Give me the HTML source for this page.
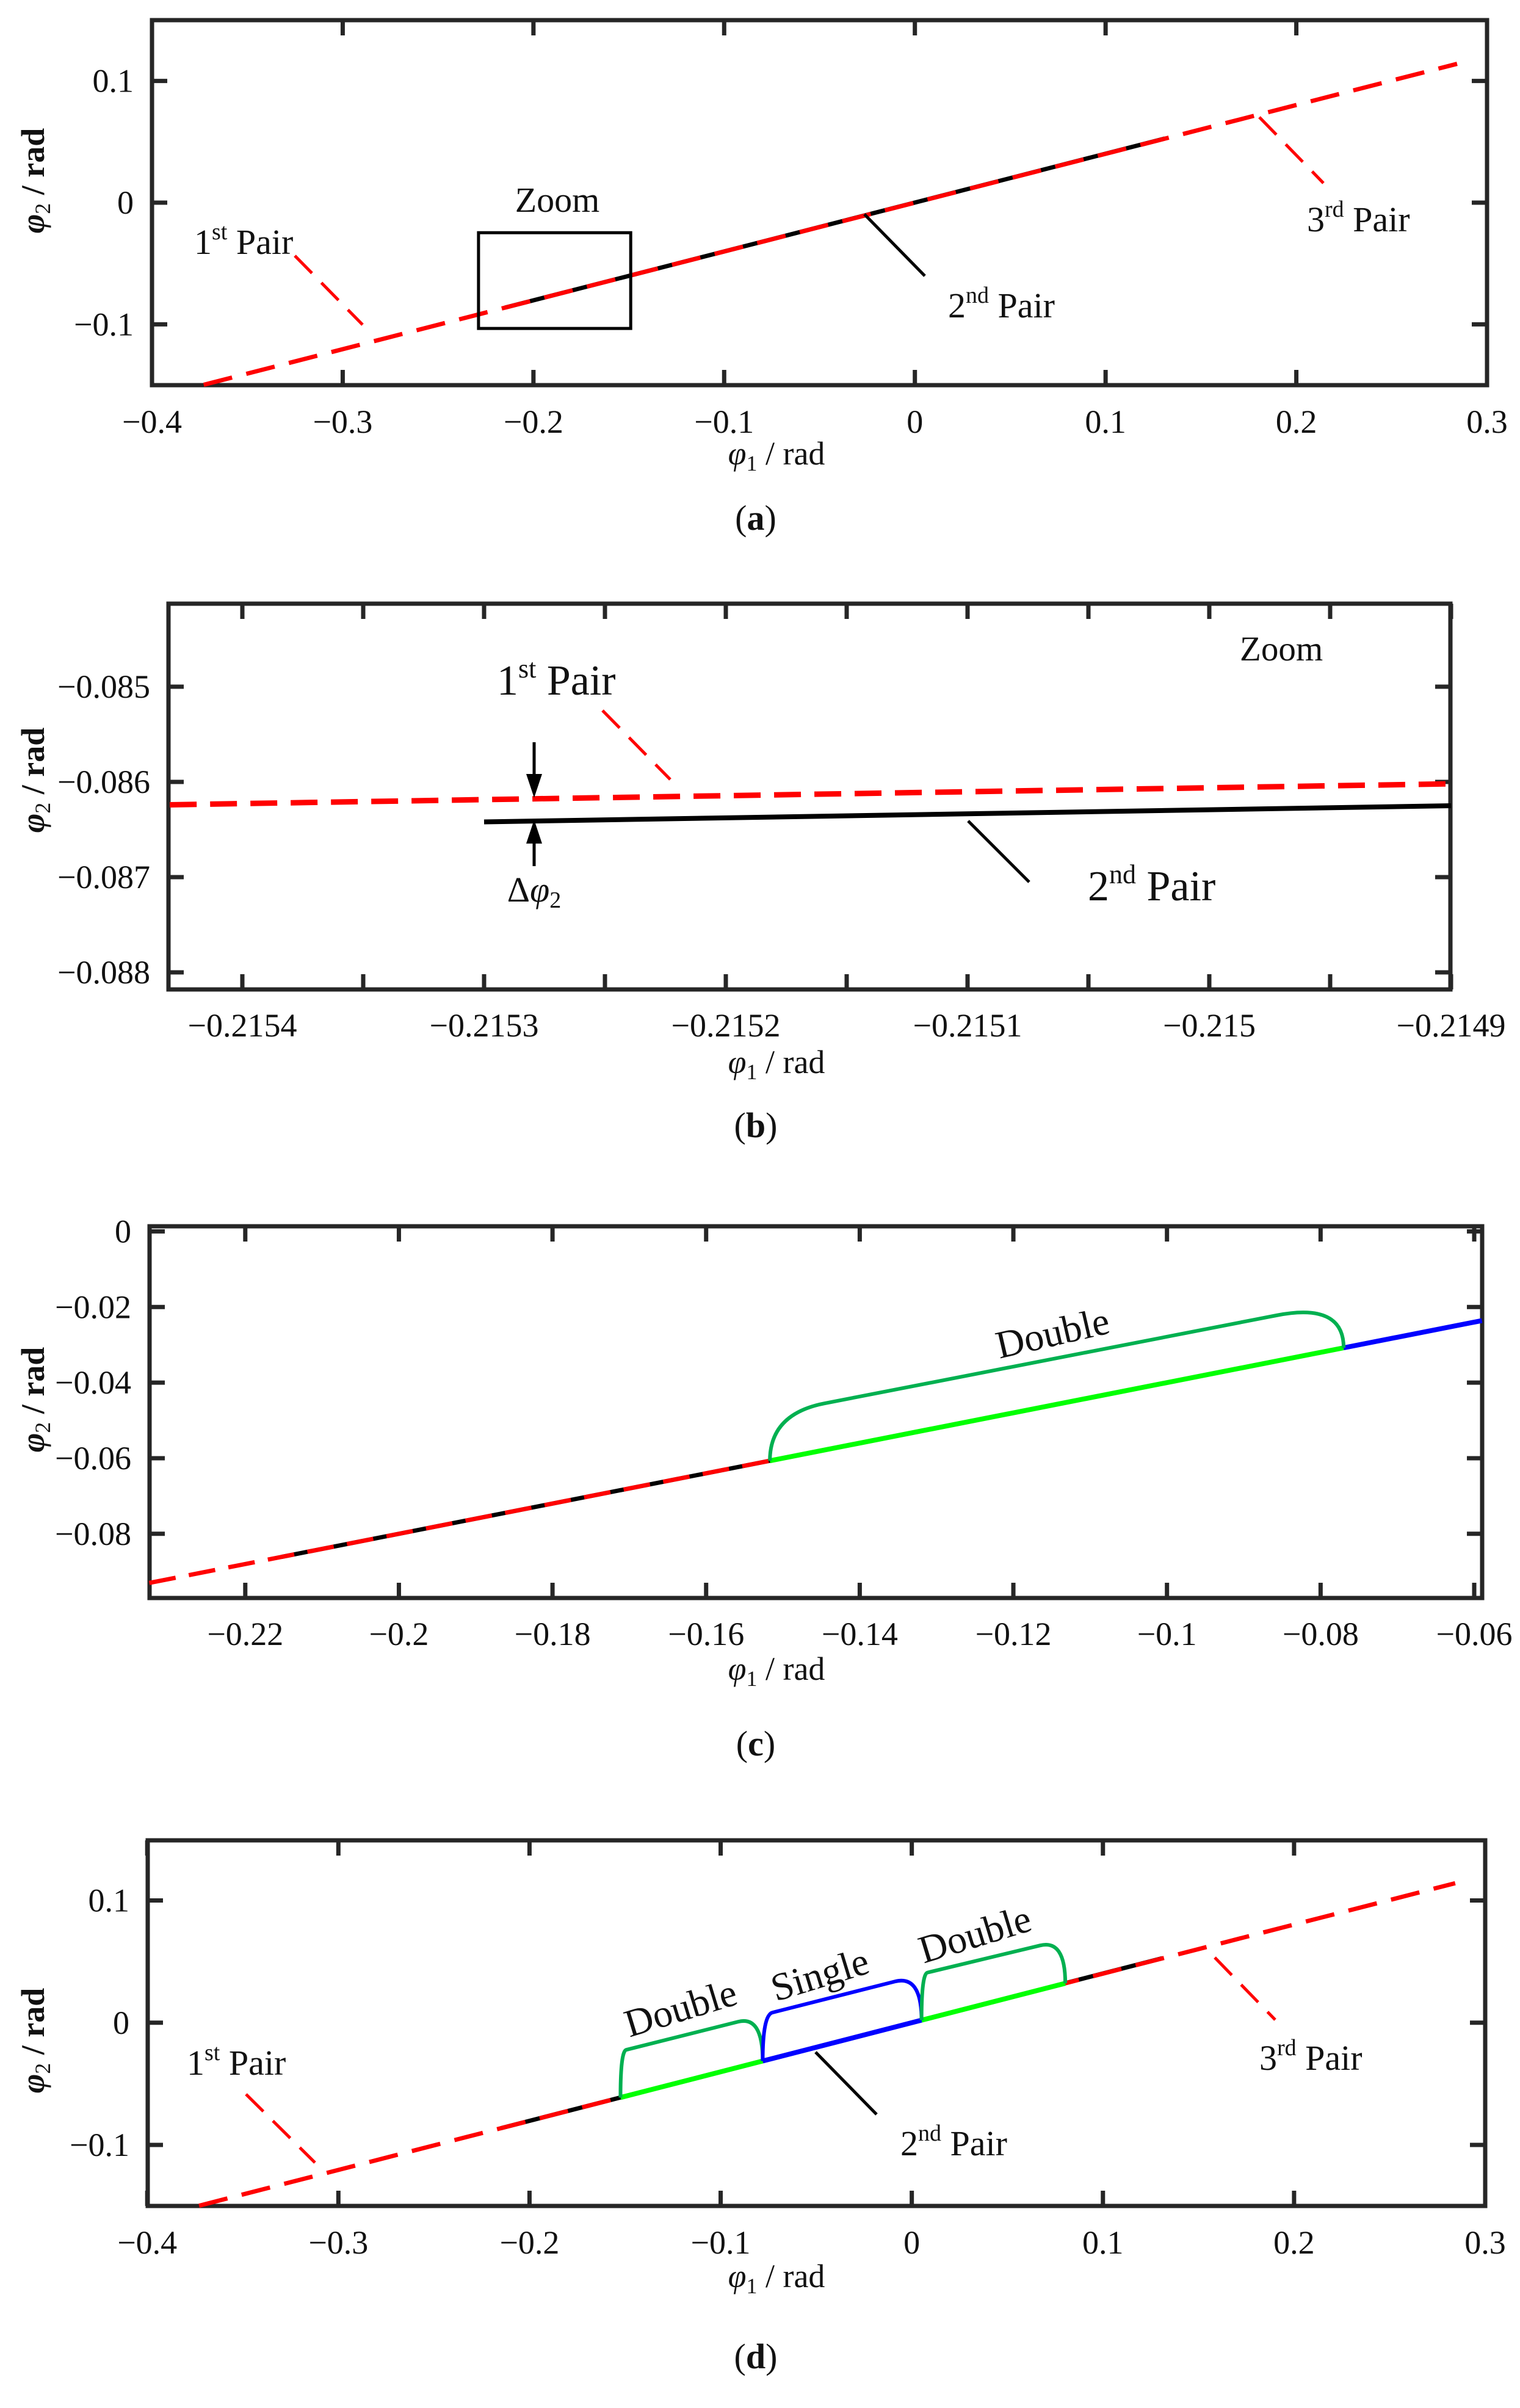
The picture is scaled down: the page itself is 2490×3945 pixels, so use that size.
<!DOCTYPE html>
<html><head><meta charset="utf-8">
<style>
html,body{margin:0;padding:0;background:#fff;}
svg{display:block;font-family:"Liberation Serif","Times New Roman","DejaVu Serif",serif;}
svg text{font-family:"Liberation Serif","Times New Roman","DejaVu Serif",serif;fill:#111;}
</style></head>
<body>
<svg id="fig" xmlns="http://www.w3.org/2000/svg" width="2490" height="3945" viewBox="0 0 2490 3945" font-family="Liberation Serif, Times New Roman, serif"></svg>
<script>
// ===== DATA =====
const pairOuterX = [-0.3729, 0.2843];
const pairOuterY = [-0.1497, 0.1141];
const pair2X = [-0.215, 0.131];
const pair2Y = [-0.0863, 0.0527];
const zoomRedX = [-0.21543, -0.2149];
const zoomRedY = [-0.08624, -0.08602];
const zoomBlackX = [-0.21530, -0.2149];
const zoomBlackY = [-0.08642, -0.08625];
const cRedX = [-0.2325, -0.059];
const cRedY = [-0.0930, -0.0236];
const cBlackX = [-0.2153, -0.059];
const cGreenSeg = [-0.1517, -0.077];
const cBlueSeg = [-0.077, -0.059];
const cBracketX = [-0.1517, -0.1446, -0.0857, -0.077];
const cBracketTopY = [-0.0455, -0.0222];
const dGreenSeg1 = [-0.1524, -0.078];
const dBlueSeg = [-0.078, 0.0051];
const dGreenSeg2 = [0.0051, 0.0803];
const dDouble1X = [-0.1524, -0.1494, -0.0908, -0.078];
const dDouble1TopY = [-0.0222, 0.0008];
const dSingleX = [-0.078, -0.0729, -0.0088, 0.0051];
const dSingleTopY = [0.0083, 0.0337];
const dDouble2X = [0.0051, 0.0082, 0.0672, 0.0803];
const dDouble2TopY = [0.041, 0.0632];
const wideXTicks = [-0.4, -0.3, -0.2, -0.1, 0, 0.1, 0.2, 0.3];
const wideXLabels = ["\u22120.4","\u22120.3","\u22120.2","\u22120.1","0","0.1","0.2","0.3"];
const wideYTicks = [-0.1, 0, 0.1];
const wideYLabels = ["\u22120.1","0","0.1"];
const bXTicks = [-0.2154,-0.21535,-0.2153,-0.21525,-0.2152,-0.21515,-0.2151,-0.21505,-0.215,-0.21495,-0.2149];
const bXLabels = ["\u22120.2154","","\u22120.2153","","\u22120.2152","","\u22120.2151","","\u22120.215","","\u22120.2149"];
const bYTicks = [-0.085, -0.086, -0.087, -0.088];
const bYLabels = ["\u22120.085","\u22120.086","\u22120.087","\u22120.088"];
const cXTicks = [-0.22,-0.2,-0.18,-0.16,-0.14,-0.12,-0.1,-0.08,-0.06];
const cXLabels = ["\u22120.22","\u22120.2","\u22120.18","\u22120.16","\u22120.14","\u22120.12","\u22120.1","\u22120.08","\u22120.06"];
const cYTicks = [0, -0.02, -0.04, -0.06, -0.08];
const cYLabels = ["0","\u22120.02","\u22120.04","\u22120.06","\u22120.08"];

// ===== RENDER =====
const NS = "http://www.w3.org/2000/svg";
const FF = "Liberation Serif, Times New Roman, DejaVu Serif, serif";
const svg = document.getElementById("fig");
function mk(tag, attrs, parent){
  const e = document.createElementNS(NS, tag);
  for (const k in attrs) e.setAttribute(k, attrs[k]);
  if (tag === "text") e.setAttribute("font-family", FF);
  (parent||svg).appendChild(e);
  return e;
}
function scale(d0,d1,p0,p1){ return v => p0 + (v-d0)/(d1-d0)*(p1-p0); }
function lerpY(xs, ys, x){ return ys[0] + (x-xs[0])/(xs[1]-xs[0])*(ys[1]-ys[0]); }

function axes(p){
  const g = mk("g", {});
  
  
  const fr = mk("rect", {x:p.L, y:p.T, width:p.R-p.L, height:p.B-p.T, fill:"none", stroke:"#262626", "stroke-width":7}, g);
  
  
  p.xt.forEach((v,i)=>{
    const x = p.sx(v);
    mk("line",{x1:x,y1:p.B,x2:x,y2:p.B-25,stroke:"#262626","stroke-width":7},g);
    mk("line",{x1:x,y1:p.T,x2:x,y2:p.T+25,stroke:"#262626","stroke-width":7},g);
    if (p.xl[i]) {
      const t = mk("text",{x:x,y:p.xBase,"text-anchor":"middle","font-size":54},g);
      t.textContent = p.xl[i];
      
      
    }
  });
  p.yt.forEach((v,i)=>{
    const y = p.sy(v);
    mk("line",{x1:p.L,y1:y,x2:p.L+25,y2:y,stroke:"#262626","stroke-width":7},g);
    mk("line",{x1:p.R,y1:y,x2:p.R-25,y2:y,stroke:"#262626","stroke-width":7},g);
    const t = mk("text",{x:p.L-30,y:y+18,"text-anchor":"end","font-size":54},g);
    t.textContent = p.yl[i];
    
    
  });
  const xl = mk("text",{x:1272,y:p.xLab,"text-anchor":"middle","font-size":54},g);
  xl.innerHTML = '<tspan font-style="italic">\u03c6</tspan><tspan font-size="36" dy="10">1</tspan><tspan dy="-10"> / rad</tspan>';
  
  
  const yc = p.yLabC;
  const yl = mk("text",{x:0,y:0,"text-anchor":"middle","font-size":54,"font-weight":"bold",transform:"translate(72,"+yc+") rotate(-90)"},g);
  yl.innerHTML = '<tspan font-style="italic">\u03c6</tspan><tspan font-size="36" dy="10" font-weight="normal">2</tspan><tspan dy="-10"> / rad</tspan>';
  
  
  const pl = mk("text",{x:1238,y:p.capY,"text-anchor":"middle","font-size":58},g);
  pl.innerHTML = '(<tspan font-weight="bold">'+p.cap+'</tspan>)';
  
  
}
function seg(p, xs, ys, color, w, dash, name){
  const l = mk("line",{x1:p.sx(xs[0]),y1:p.sy(ys[0]),x2:p.sx(xs[1]),y2:p.sy(ys[1]),stroke:color,"stroke-width":w,"stroke-dasharray":dash||"none"});
  
  
  return l;
}
function bracket(p, bx, topY, lineXs, lineYs, color, name){
  const x0=p.sx(bx[0]), y0=p.sy(lerpY(lineXs,lineYs,bx[0]));
  const xa=p.sx(bx[1]), ya=p.sy(topY[0]);
  const xb=p.sx(bx[2]), yb=p.sy(topY[1]);
  const x1=p.sx(bx[3]), y1=p.sy(lerpY(lineXs,lineYs,bx[3]));
  const s=(yb-ya)/(xb-xa);
  const c0y = ya - s*(xa-x0), c1y = yb + s*(x1-xb);
  const d = `M${x0},${y0} Q${x0},${c0y} ${xa},${ya} L${xb},${yb} Q${x1},${c1y} ${x1},${y1}`;
  const e = mk("path",{d:d,fill:"none",stroke:color,"stroke-width":6});
  
  
}
function txt(x,y,size,html,name,extra){
  const t = mk("text",Object.assign({x:x,y:y,"font-size":size},extra||{}));
  t.innerHTML = html;
  
  
  return t;
}
function leader(x1,y1,x2,y2,color,dash,name){
  const l = mk("line",{x1:x1,y1:y1,x2:x2,y2:y2,stroke:color,"stroke-width":5,"stroke-dasharray":dash||"none"});
  
  
}
const sup = s => '<tspan font-size="38" dy="-24">'+s+'</tspan><tspan dy="24"> </tspan>';
const RED="#ff0000", GRN="#00ff00", DGR="#00b050", BLU="#0000ff";

// ---- Panel a ----
const pa = {name:"panel-a",L:249,R:2436,T:33,B:631,cap:"a",xBase:709,xLab:761,yLabC:296,capY:868,
  xt:wideXTicks,xl:wideXLabels,yt:wideYTicks,yl:wideYLabels};
pa.sx=scale(-0.4,0.3,249,2436); pa.sy=scale(-0.15,0.15,631,33);
axes(pa);
seg(pa,pair2X,pair2Y,"#000",7,null,"a-2nd-pair-line");
seg(pa,pairOuterX,pairOuterY,RED,7,"48,24","a-1st-3rd-pair-line");
const zr = mk("rect",{x:pa.sx(-0.2288),y:pa.sy(-0.0247),width:pa.sx(-0.149)-pa.sx(-0.2288),height:pa.sy(-0.1034)-pa.sy(-0.0247),fill:"none",stroke:"#000","stroke-width":5});


txt(913,347,58,"Zoom","a-zoom-label",{"text-anchor":"middle"});
txt(318,416,58,"1"+sup("st")+"Pair","a-1st-pair-label");
leader(483,419,594,532,RED,"40,22","a-1st-pair-leader");
txt(1553,520,58,"2"+sup("nd")+"Pair","a-2nd-pair-label");
leader(1416,351,1515,452,"#000",null,"a-2nd-pair-leader");
txt(2141,379,58,"3"+sup("rd")+"Pair","a-3rd-pair-label");
leader(2063,192,2168,300,RED,"40,22","a-3rd-pair-leader");

// ---- Panel b ----
const pb = {name:"panel-b",L:276,R:2376,T:989,B:1621,cap:"b",xBase:1698,xLab:1758,yLabC:1278,capY:1863,
  xt:bXTicks,xl:bXLabels,yt:bYTicks,yl:bYLabels};
pb.sx=scale(-0.2154,-0.2149,397,2377); pb.sy=scale(-0.085,-0.088,1125,1593);
axes(pb);
seg(pb,zoomBlackX,zoomBlackY,"#000",8,null,"b-2nd-pair-line");
seg(pb,zoomRedX,zoomRedY,RED,9,"44,22","b-1st-pair-line");
const ax = 875;
leader(ax,1216,ax,1300,"#000",null,"b-arrow-top");
leader(ax,1350,ax,1419,"#000",null,"b-arrow-bottom");
const a1 = mk("path",{d:`M${ax-13},1268 L${ax+13},1268 L${ax},1307 Z`,fill:"#000"});


const a2 = mk("path",{d:`M${ax-13},1382 L${ax+13},1382 L${ax},1343 Z`,fill:"#000"});


txt(875,1477,58,'\u0394<tspan font-style="italic">\u03c6</tspan><tspan font-size="38" dy="10">2</tspan>',"delta-phi2-label",{"text-anchor":"middle"});
txt(814,1138,70,"1"+'<tspan font-size="44" dy="-28">st</tspan><tspan dy="28"> </tspan>'+"Pair","b-1st-pair-label");
leader(987,1164,1098,1277,RED,"40,22","b-1st-pair-leader");
txt(2031,1082,57,"Zoom","b-zoom-label");
txt(1782,1475,70,"2"+'<tspan font-size="44" dy="-28">nd</tspan><tspan dy="28"> </tspan>'+"Pair","b-2nd-pair-label");
leader(1586,1345,1686,1445,"#000",null,"b-2nd-pair-leader");

// ---- Panel c ----
const pc = {name:"panel-c",L:245,R:2428,T:2009,B:2618,cap:"c",xBase:2695,xLab:2752,yLabC:2293,capY:2876,
  xt:cXTicks,xl:cXLabels,yt:cYTicks,yl:cYLabels};
pc.sx=scale(-0.22,-0.06,401.8,2415); pc.sy=scale(0,-0.08,2017.4,2512.8);
axes(pc);
seg(pc,cBlackX,[lerpY(cRedX,cRedY,cBlackX[0]),lerpY(cRedX,cRedY,cBlackX[1])],"#000",7,null,"c-2nd-pair-line");
seg(pc,cRedX,cRedY,RED,7,"44,22","c-1st-pair-line");
seg(pc,cGreenSeg,[lerpY(cRedX,cRedY,cGreenSeg[0]),lerpY(cRedX,cRedY,cGreenSeg[1])],GRN,8,null,"c-double-segment");
seg(pc,cBlueSeg,[lerpY(cRedX,cRedY,cBlueSeg[0]),lerpY(cRedX,cRedY,cBlueSeg[1])],BLU,8,null,"c-single-segment");
bracket(pc,cBracketX,cBracketTopY,cRedX,cRedY,DGR,"c-double-bracket");
txt(1725,2205,64,"Double","c-double-label",{"text-anchor":"middle",transform:"rotate(-13 1725 2187)"});

// ---- Panel d ----
const pd = {name:"panel-d",L:242,R:2433,T:3015,B:3614,cap:"d",xBase:3692,xLab:3747,yLabC:3343,capY:3880,
  xt:wideXTicks,xl:wideXLabels,yt:wideYTicks,yl:wideYLabels};
pd.sx=scale(-0.4,0.3,241.2,2433); pd.sy=scale(-0.15,0.15,3614.2,3013.3);
axes(pd);
seg(pd,pair2X,pair2Y,"#000",7,null,"d-2nd-pair-line");
seg(pd,pairOuterX,pairOuterY,RED,7,"48,24","d-1st-3rd-pair-line");
[[dGreenSeg1,GRN,"d-double-segment-1"],[dBlueSeg,BLU,"d-single-segment"],[dGreenSeg2,GRN,"d-double-segment-2"]].forEach(s=>{
  seg(pd,s[0],[lerpY(pairOuterX,pairOuterY,s[0][0]),lerpY(pairOuterX,pairOuterY,s[0][1])],s[1],8,null,s[2]);
});
bracket(pd,dDouble1X,dDouble1TopY,pairOuterX,pairOuterY,DGR,"d-double-bracket-1");
bracket(pd,dSingleX,dSingleTopY,pairOuterX,pairOuterY,BLU,"d-single-bracket");
bracket(pd,dDouble2X,dDouble2TopY,pairOuterX,pairOuterY,DGR,"d-double-bracket-2");
txt(1116,3311,64,"Double","d-double-label-1",{"text-anchor":"middle",transform:"rotate(-17 1116 3293)"});
txt(1344,3256,64,"Single","d-single-label",{"text-anchor":"middle",transform:"rotate(-17 1344 3238)"});
txt(1598,3190,64,"Double","d-double-label-2",{"text-anchor":"middle",transform:"rotate(-17 1598 3172)"});
txt(306,3399,58,"1"+sup("st")+"Pair","d-1st-pair-label");
leader(403,3431,516,3543,RED,"40,22","d-1st-pair-leader");
txt(1475,3531,58,"2"+sup("nd")+"Pair","d-2nd-pair-label");
leader(1336,3362,1436,3464,"#000",null,"d-2nd-pair-leader");
txt(2063,3391,58,"3"+sup("rd")+"Pair","d-3rd-pair-label");
leader(1990,3207,2089,3309,RED,"40,22","d-3rd-pair-leader");
</script>
</body></html>
